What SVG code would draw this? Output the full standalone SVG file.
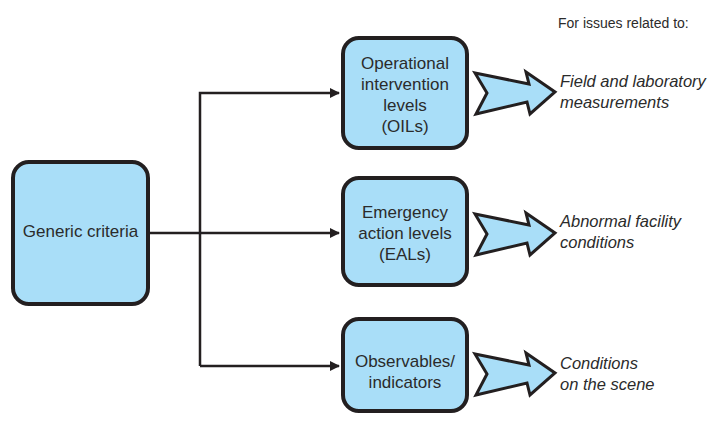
<svg xmlns="http://www.w3.org/2000/svg" width="711" height="421" viewBox="0 0 711 421">
<style>
.box{fill:#a9def8;stroke:#231f20;stroke-width:4}
.t{font-family:"Liberation Sans",Arial,sans-serif;font-size:17px;fill:#2b2b2b;text-anchor:middle}
.it{font-family:"Liberation Sans",Arial,sans-serif;font-size:16.5px;fill:#2b2b2b;font-style:italic}
.hd{font-family:"Liberation Sans",Arial,sans-serif;font-size:14px;fill:#2b2b2b}
.ln{fill:none;stroke:#231f20;stroke-width:2.5}
.ar{fill:#a9def8;stroke:#231f20;stroke-width:3;stroke-linejoin:miter}
</style>
<defs>
<marker id="ah" markerWidth="10" markerHeight="10" refX="9" refY="5" orient="auto" markerUnits="userSpaceOnUse">
<path d="M0,0 L10,5 L0,10 Z" fill="#231f20"/>
</marker>
<path id="bigarrow" d="M475,-19 L529,-8 L526,-20 L555,0 L530,22 L527,10 L476,22 L487,1 Z"/>
</defs>
<rect width="711" height="421" fill="#ffffff"/>
<text class="hd" x="558" y="28">For issues related to:</text>
<g id="connectors">
<path class="ln" d="M148,233 H339" marker-end="url(#ah)"/>
<path class="ln" d="M200,366 V93 H339" marker-end="url(#ah)"/>
<path class="ln" d="M200,366 H339" marker-end="url(#ah)"/>
</g>
<g id="generic">
<rect class="box" x="13" y="162" width="135" height="142" rx="16"/>
<text class="t" x="80.5" y="237">Generic criteria</text>
</g>
<g id="oils">
<rect class="box" x="343" y="38" width="124" height="110" rx="16"/>
<text class="t" x="405" y="69">Operational</text>
<text class="t" x="405" y="90">intervention</text>
<text class="t" x="405" y="111">levels</text>
<text class="t" x="405" y="132">(OILs)</text>
</g>
<g id="eals">
<rect class="box" x="343" y="178" width="124" height="107" rx="16"/>
<text class="t" x="405" y="218">Emergency</text>
<text class="t" x="405" y="239">action levels</text>
<text class="t" x="405" y="260">(EALs)</text>
</g>
<g id="obs">
<rect class="box" x="343" y="319" width="124" height="92" rx="16"/>
<text class="t" x="405" y="367">Observables/</text>
<text class="t" x="405" y="388">indicators</text>
</g>
<g id="arrow1"><use href="#bigarrow" class="ar" transform="translate(0,92)"/></g>
<g id="arrow2"><use href="#bigarrow" class="ar" transform="translate(0,233)"/></g>
<g id="arrow3"><use href="#bigarrow" class="ar" transform="translate(0,373)"/></g>
<g id="label1">
<text class="it" x="560" y="87">Field and laboratory</text>
<text class="it" x="560" y="108">measurements</text>
</g>
<g id="label2">
<text class="it" x="560" y="227">Abnormal facility</text>
<text class="it" x="560" y="248">conditions</text>
</g>
<g id="label3">
<text class="it" x="560" y="369">Conditions</text>
<text class="it" x="560" y="390">on the scene</text>
</g>
</svg>
